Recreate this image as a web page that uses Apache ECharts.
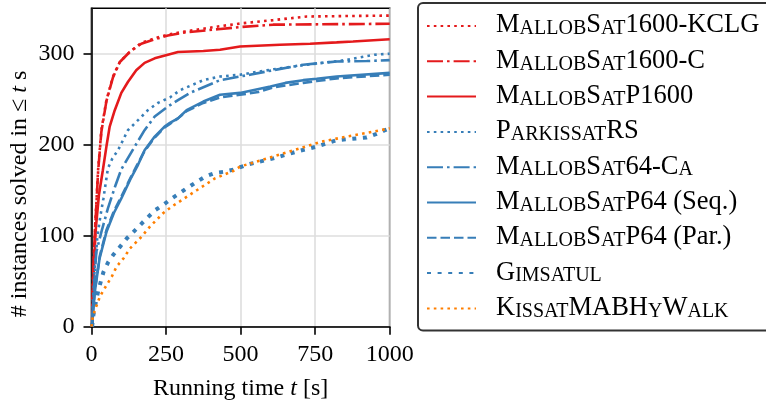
<!DOCTYPE html>
<html>
<head>
<meta charset="utf-8">
<script src="https://cdn.jsdelivr.net/npm/echarts@6/dist/echarts.min.js"></script>
<style>html,body{margin:0;padding:0;background:#fff}#c{width:766px;height:401px}</style>
</head>
<body>
<div id="c"></div>
<script>
// ---- data (time t [s], # instances solved) ----
const xTicks = [0, 250, 500, 750, 1000];
const yTicks = [0, 100, 200, 300];

const mallob1600KCLG = [[2,0],[4,40],[8,80],[12,110],[17,140],[22,172],[33,216],[50,249],[72,275],[95,291],[128,302],[167,312],[212,317],[256,321],[314,324.5],[424,330],[504,333.5],[609,337],[722,341],[1000,342]];
const mallob1600C = [[2,0],[4,38],[8,78],[12,108],[17,138],[22,170],[33,214],[50,248],[72,274],[95,291],[128,302],[167,311],[212,316],[256,320],[314,323.5],[424,327],[504,329.5],[609,332],[1000,333]];
const mallobP1600 = [[3,0],[5,30],[8,70],[15,110],[25,145],[38,172],[50,198],[61,220],[78,238],[100,257],[122,269],[150,282],[178,290],[212,295],[256,299],[290,302],[375,303],[431,304.5],[498,308],[632,310],[733,311],[822,312.5],[877,313.5],[1000,316]];
const parkissatRS = [[2,5],[5,30],[10,60],[20,100],[30,122],[40,141],[55,174],[70,185],[89,194],[122,216],[156,227],[189,238],[223,246],[263,252],[297,260],[375,271],[431,275],[498,277],[610,283],[723,288],[850,293],[950,299],[1000,300]];
const mallob64Ca = [[3,10],[8,40],[16,82],[33,104],[55,130],[80,155],[100,173],[145,198],[178,216],[212,231],[256,242],[290,249],[330,257],[431,271],[498,275],[531,277],[610,282],[710,288],[822,291.5],[923,292],[1000,293]];
const mallobP64Seq = [[2,0],[5,15],[11,38],[27,75],[50,104],[75,125],[100,141],[130,162],[156,178],[178,194],[212,209],[245,220],[263,224],[290,229],[319,238],[375,247.5],[431,255],[498,257],[600,264],[650,268],[710,271],[755,272.5],[822,275],[1000,279]];
const mallobP64Par = [[2,0],[5,18],[12,42],[28,78],[50,106],[75,127],[100,143],[130,163],[150,176],[178,193],[212,208],[245,219],[263,223],[290,229],[319,237],[375,246],[431,252],[498,255],[560,258],[609,263],[710,268],[755,270],[822,273],[1000,277]];
const gimsatul = [[2,0],[5,10],[10,20],[23,40],[40,60],[56,71],[73,79],[96,88],[118,97],[140,104],[185,119],[213,128],[241,134],[269,141],[297,147],[319,152],[347,158],[381,165],[414,169],[448,170.5],[481,173],[520,178],[610,185],[688,192.5],[755,198],[822,205],[889,207],[923,208],[956,212],[984,216],[1000,218]];
const kissatMAB = [[0,0],[3,8],[10,17],[28,33],[40,40],[68,55],[84,66],[107,75],[129,86],[168,99],[196,110],[241,125],[269,132],[302,139],[353,150],[414,163],[481,172],[498,176],[588,185],[699,196],[766,203],[856,209],[923,213],[1000,218]];

const seriesNames = ["MallobSat1600-KCLG","MallobSat1600-C","MallobSatP1600","ParkissatRS","MallobSat64-Ca","MallobSatP64 (Seq.)","MallobSatP64 (Par.)","Gimsatul","KissatMABHyWalk"];
// [..] marks small-caps parts
const legendLabels = ["M[allob]S[at]1600-KCLG","M[allob]S[at]1600-C","M[allob]S[at]P1600","P[arkissat]RS","M[allob]S[at]64-C[a]","M[allob]S[at]P64 (Seq.)","M[allob]S[at]P64 (Par.)","G[imsatul]","K[issat]MABH[y]W[alk]"];
const seriesData = [mallob1600KCLG, mallob1600C, mallobP1600, parkissatRS, mallob64Ca, mallobP64Seq, mallobP64Par, gimsatul, kissatMAB];

const RED = '#e41a1c', BLUE = '#377eb8', ORANGE = '#ff7f00';
const styles = [
  {color: RED, width: 2.6, type: [2.6, 4.2]},
  {color: RED, width: 2.6, type: [16, 4, 2.6, 4]},
  {color: RED, width: 2.6, type: 'solid'},
  {color: BLUE, width: 2.6, type: [2.6, 4.2]},
  {color: BLUE, width: 2.6, type: [16, 4, 2.6, 4]},
  {color: BLUE, width: 2.6, type: 'solid'},
  {color: BLUE, width: 2.6, type: [9.5, 4]},
  {color: BLUE, width: 4, type: [4, 6.6]},
  {color: ORANGE, width: 2.6, type: [2.6, 4.2]}
];

const FONT = 'Liberation Serif';
function smallCaps(label) {
  return label.replace(/\[([^\]]+)\]|([^\[]+)/g, function (m, s, n) {
    return s ? '{s|' + s.toUpperCase() + '}' : '{n|' + n + '}';
  });
}
const labelMap = {};
seriesNames.forEach(function (n, i) { labelMap[n] = smallCaps(legendLabels[i]); });

const chart = echarts.init(document.getElementById('c'), null, {renderer: 'canvas'});
const option = {
  animation: false,
  backgroundColor: '#fff',
  textStyle: {fontFamily: FONT},
  grid: {left: 91.5, top: 8.3, right: 376.3, bottom: 74.3, containLabel: false, outerBoundsMode: 'none',
    show: true, borderColor: '#000', borderWidth: 1.6, backgroundColor: 'transparent'},
  xAxis: {
    type: 'value', min: 0, max: 1000, interval: 250,
    axisLine: {lineStyle: {color: '#000', width: 1.6}},
    axisTick: {length: 8, lineStyle: {color: '#000', width: 1.6}},
    axisLabel: {fontSize: 24, color: '#000', margin: 16, fontFamily: FONT, formatter: function (v) { return xTicks.indexOf(v) >= 0 ? String(v) : ''; }},
    splitLine: {show: true, lineStyle: {color: '#dedede', width: 1.6}},
    name: 'Running time {i|t} [s]', nameLocation: 'middle', nameGap: 50,
    nameTextStyle: {fontSize: 24, color: '#000', fontFamily: FONT, rich: {i: {fontSize: 24, fontStyle: 'italic', fontFamily: FONT, color: '#000'}}}
  },
  yAxis: {
    type: 'value', min: 0, max: 350, interval: 100,
    axisLine: {lineStyle: {color: '#000', width: 1.6}},
    axisTick: {length: 8, lineStyle: {color: '#000', width: 1.6}, customValues: yTicks},
    axisLabel: {fontSize: 24, color: '#000', margin: 17, fontFamily: FONT, customValues: yTicks},
    splitLine: {show: true, lineStyle: {color: '#dedede', width: 1.6}}
  },
  legend: {
    orient: 'vertical', left: 418, top: 3,
    padding: [9, 14, 9, 8], itemGap: 8.3, itemWidth: 49, itemHeight: 14,
    borderColor: '#333', borderWidth: 2, borderRadius: 5, backgroundColor: '#fff',
    itemStyle: {opacity: 0},
    data: seriesNames,
    formatter: function (name) { return labelMap[name]; },
    textStyle: {
      padding: [0, 0, 0, 15], color: '#000',
      rich: {
        n: {fontSize: 26.5, lineHeight: 26, fontFamily: FONT, color: '#000', verticalAlign: 'bottom'},
        s: {fontSize: 20, lineHeight: 20, fontFamily: FONT, color: '#000', verticalAlign: 'bottom'}
      }
    }
  },
  graphic: [{
    type: 'text', x: 20, y: 194, rotation: Math.PI / 2,
    style: {text: '# instances solved in ≤ {i|t} s', fontSize: 24, fontFamily: FONT, fill: '#000', align: 'center', verticalAlign: 'middle',
      rich: {i: {fontSize: 24, fontStyle: 'italic', fontFamily: FONT, fill: '#000'}}}
  }],
  series: seriesNames.map(function (name, i) {
    return {
      name: name, type: 'line', data: seriesData[i], showSymbol: false, symbol: 'none',
      lineStyle: {color: styles[i].color, width: styles[i].width, type: styles[i].type, cap: 'butt'},
      itemStyle: {color: styles[i].color},
      z: 2 + i
    };
  })
};
chart.setOption(option);
</script>
</body>
</html>
